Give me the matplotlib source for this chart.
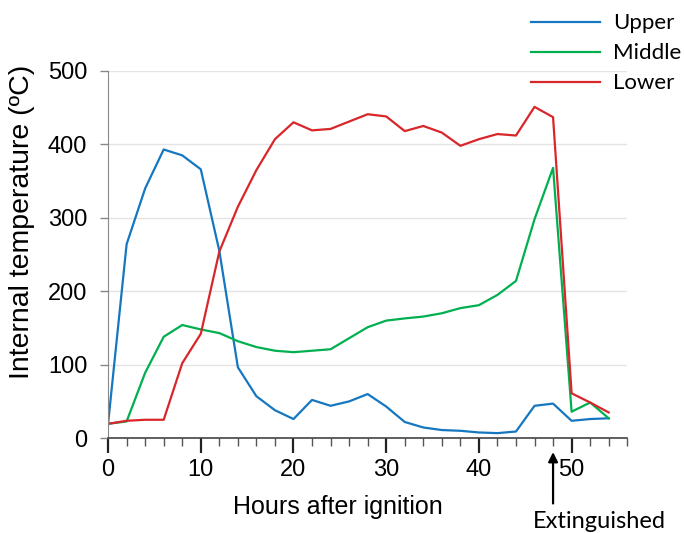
import matplotlib
matplotlib.use("Agg")
import matplotlib.pyplot as plt
from matplotlib.ticker import MultipleLocator

hours = list(range(0, 56, 2))
upper = [19.5, 264, 340, 393, 385, 366, 255, 96.5, 57, 38, 26, 52, 44, 50, 60,
         43, 22, 14.5, 11, 10, 7.7, 6.8, 9, 44, 47, 23.6, 26, 27]
middle = [19.5, 22.7, 89, 138, 154, 148, 143, 132, 124, 119, 117, 119, 121, 136, 151,
          160, 163, 165.5, 170, 177, 181, 195, 214, 298, 368, 36, 48.5, 27]
lower = [19.5, 23.6, 25, 25, 102, 142, 254, 315, 365, 407, 430, 419, 421, 431, 441,
         438, 418, 425, 416, 398, 407, 414, 412, 451, 437, 61, 48.5, 35]
series_names = ["Upper", "Middle", "Lower"]
colors = ["#1577C0", "#00B050", "#D9262A"]
x_label = "Hours after ignition"
y_label = "Internal temperature (ºC)"
annot_text = "Extinguished"
annot_x = 48

fig = plt.figure(figsize=(6.84, 5.33), dpi=100)
ax = fig.add_axes([0.158, 0.178, 0.759, 0.689])

for vals, name, c in zip([upper, middle, lower], series_names, colors):
    ax.plot(hours, vals, color=c, lw=1.6, label=name)

ax.set_xlim(0, 56)
ax.set_ylim(0, 500)
ax.xaxis.set_major_locator(MultipleLocator(10))
ax.xaxis.set_minor_locator(MultipleLocator(2))
ax.yaxis.set_major_locator(MultipleLocator(100))
ax.grid(axis="y", color="#E4E4E4", lw=1.0)
ax.set_axisbelow(True)
for s in ["top", "right"]:
    ax.spines[s].set_visible(False)
ax.spines["left"].set_color("#888888")
ax.spines["bottom"].set_color("#444444")
ax.spines["bottom"].set_linewidth(1.2)
ax.tick_params(axis="x", which="major", direction="out", length=11, width=1.6,
               color="#222222", labelsize=17, pad=4)
ax.tick_params(axis="x", which="minor", direction="out", length=6, width=1.0,
               color="#555555")
ax.tick_params(axis="y", which="major", direction="out", length=6, width=1.0,
               color="#888888", labelsize=17, pad=9)
for t in ax.get_xticklabels() + ax.get_yticklabels():
    t.set_fontfamily("Liberation Sans")
ax.set_xlabel(x_label, family="Liberation Sans", fontsize=18)
ax.xaxis.set_label_coords(0.4425, -0.155)
ax.set_ylabel(y_label, family="Liberation Sans", fontsize=20.5)
ax.yaxis.set_label_coords(-0.141, 0.59)

leg = ax.legend(loc="upper left", bbox_to_anchor=(0.776, 0.975), bbox_transform=fig.transFigure,
                frameon=False, handlelength=3.1, handletextpad=0.6, labelspacing=0.45,
                borderpad=0, borderaxespad=0,
                prop={"family": "Lato", "size": 16})

ax.annotate("", xy=(annot_x, -19), xycoords="data",
            xytext=(annot_x, -89), textcoords="data",
            arrowprops=dict(arrowstyle="-|>", color="black", lw=1.6, shrinkA=0, shrinkB=0,
                            mutation_scale=14),
            annotation_clip=False)
ax.text(53.0, -114, annot_text, ha="center", va="center", fontsize=17, family="Lato",
        clip_on=False)

fig.savefig("out.png", dpi=100)
